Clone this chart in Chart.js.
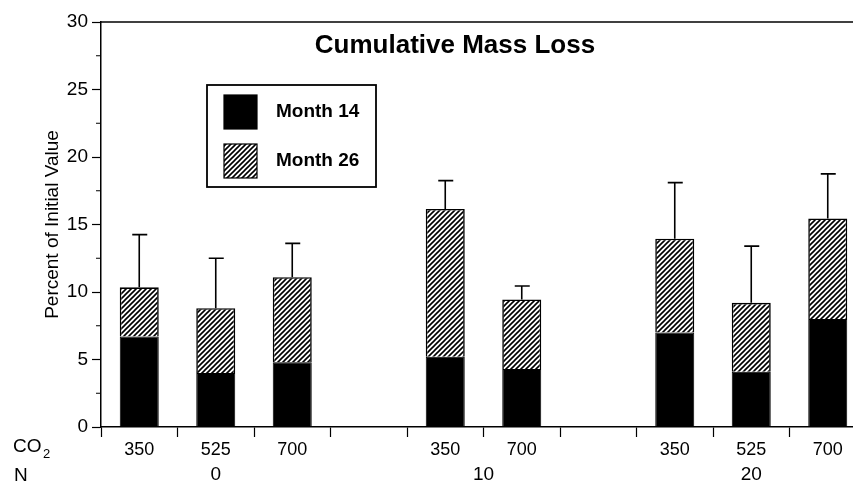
<!DOCTYPE html>
<html>
<head>
<meta charset="utf-8">
<script src="https://cdn.jsdelivr.net/npm/chart.js@4"></script>
<style>
    html, body { margin: 0; padding: 0; background: #fff; overflow: hidden; }
    #wrap { width: 853px; height: 481px; overflow: hidden; }
</style>
</head>
<body>
<div id="wrap"><canvas id="massLossChart" width="880" height="481"></canvas></div>
<script>
// data (percent of initial value)
var co2Labels = ['350', '525', '700', '', '350', '700', '', '350', '525', '700'];
var nGroups = [
    {label: '0', from: 0, to: 2},
    {label: '10', from: 4, to: 5},
    {label: '20', from: 7, to: 9}
];
var month14 = [6.7, 4.0, 4.8, null, 5.2, 4.3, null, 7.0, 4.1, 8.0];
var month26 = [10.35, 8.8, 11.1, null, 16.15, 9.45, null, 13.95, 9.2, 15.45];
var month26Err = [14.25, 12.5, 13.6, null, 18.25, 10.45, null, 18.1, 13.4, 18.75];
var yTicks = [0, 5, 10, 15, 20, 25, 30];

var FONT = "'Liberation Sans', Arial, Helvetica, sans-serif";

var canvas = document.getElementById('massLossChart');
var ctx = canvas.getContext('2d');

function makeHatch() {
    var c = document.createElement('canvas');
    c.width = 5;
    c.height = 5;
    var g = c.getContext('2d');
    g.fillStyle = '#fff';
    g.fillRect(0, 0, 5, 5);
    g.strokeStyle = '#000';
    g.lineWidth = 1.6;
    g.beginPath();
    g.moveTo(-1, 6); g.lineTo(6, -1);
    g.moveTo(-1, 1); g.lineTo(1, -1);
    g.moveTo(4, 6); g.lineTo(6, 4);
    g.stroke();
    return ctx.createPattern(c, 'repeat');
}
var hatch = makeHatch();

var hatchData = [];
for (let i = 0; i < month26.length; i++) {
    hatchData.push(month26[i] == null ? null : [month14[i], month26[i]]);
}

// extra drawing: frame line, title, legend, error bars, axis captions
var decorPlugin = {
    id: 'decor',
    afterDraw: function (chart) {
        var c = chart.ctx;
        var area = chart.chartArea;
        var xs = chart.scales.x;
        var ys = chart.scales.y;
        c.save();

        // top frame line
        c.strokeStyle = '#000';
        c.lineWidth = 1.5;
        c.beginPath();
        c.moveTo(area.left, area.top);
        c.lineTo(chart.width, area.top);
        c.stroke();

        // minor y ticks
        c.lineWidth = 1.2;
        c.beginPath();
        for (let v = 2.5; v < 30; v += 5) {
            var py = ys.getPixelForValue(v);
            c.moveTo(area.left - 5, py);
            c.lineTo(area.left, py);
        }
        c.stroke();

        // error bars
        c.lineWidth = 1.6;
        c.beginPath();
        for (let i = 0; i < month26Err.length; i++) {
            if (month26Err[i] == null) continue;
            var px = xs.getPixelForValue(i);
            var y1 = ys.getPixelForValue(month26[i]);
            var y2 = ys.getPixelForValue(month26Err[i]);
            c.moveTo(px, y1);
            c.lineTo(px, y2);
            c.moveTo(px - 7, y2);
            c.lineTo(px + 8, y2);
        }
        c.stroke();

        // title
        c.fillStyle = '#000';
        c.font = 'bold 26px ' + FONT;
        c.textAlign = 'center';
        c.textBaseline = 'alphabetic';
        c.fillText('Cumulative Mass Loss', 455, 53);

        // legend box
        var ds = chart.data.datasets;
        c.lineWidth = 1.8;
        c.strokeRect(207, 85, 169, 102);
        c.textAlign = 'left';
        c.font = 'bold 19px ' + FONT;
        for (let k = 0; k < ds.length; k++) {
            var sy = 95 + k * 49;
            c.fillStyle = ds[k].backgroundColor;
            c.fillRect(224, sy, 33, 34);
            c.lineWidth = 1.2;
            c.strokeRect(224, sy, 33, 34);
            c.fillStyle = '#000';
            c.fillText(ds[k].label, 276, sy + 22);
        }

        // x axis captions
        c.font = '19px ' + FONT;
        c.fillText('CO', 13, 452);
        c.font = '13px ' + FONT;
        c.fillText('2', 43, 458);
        c.font = '19px ' + FONT;
        c.fillText('N', 14, 481);
        c.textAlign = 'center';
        for (let k = 0; k < nGroups.length; k++) {
            var gx = (xs.getPixelForValue(nGroups[k].from) + xs.getPixelForValue(nGroups[k].to)) / 2;
            c.fillText(nGroups[k].label, gx, 480);
        }
        c.restore();
    }
};

new Chart(ctx, {
    type: 'bar',
    data: {
        labels: co2Labels,
        datasets: [{
            label: 'Month 14',
            data: month14,
            backgroundColor: '#000',
            borderColor: '#000',
            borderWidth: 1
        }, {
            label: 'Month 26',
            data: hatchData,
            backgroundColor: hatch,
            borderColor: '#000',
            borderWidth: 1.6,
            borderSkipped: 'start'
        }]
    },
    options: {
        responsive: false,
        animation: false,
        devicePixelRatio: 1,
        layout: {
            padding: {left: 0, top: 22, right: 14, bottom: 0}
        },
        datasets: {
            bar: {
                grouped: false,
                barPercentage: 0.51,
                categoryPercentage: 1.0
            }
        },
        plugins: {
            legend: {display: false},
            title: {display: false},
            tooltip: {enabled: false}
        },
        scales: {
            x: {
                border: {display: true, color: '#000', width: 1.5},
                grid: {drawOnChartArea: false, drawTicks: true, tickLength: 10, color: '#000', tickWidth: 1.2, offset: true},
                ticks: {color: '#000', font: {family: FONT, size: 18}, padding: 2, maxRotation: 0, autoSkip: false},
                afterFit: function (scale) {
                    scale.height = 54;
                }
            },
            y: {
                min: 0,
                max: 30,
                afterBuildTicks: function (scale) {
                    scale.ticks = yTicks.map(function (v) { return {value: v}; });
                },
                border: {display: true, color: '#000', width: 1.5},
                grid: {drawOnChartArea: false, drawTicks: true, tickLength: 9, color: '#000', tickWidth: 1.2},
                ticks: {color: '#000', font: {family: FONT, size: 19}, padding: 4},
                title: {
                    display: true,
                    text: 'Percent of Initial Value',
                    color: '#000',
                    font: {family: FONT, size: 19},
                    padding: {top: 41, bottom: 0}
                },
                afterFit: function (scale) {
                    scale.width = 101;
                }
            }
        }
    },
    plugins: [decorPlugin]
});
</script>
</body>
</html>
